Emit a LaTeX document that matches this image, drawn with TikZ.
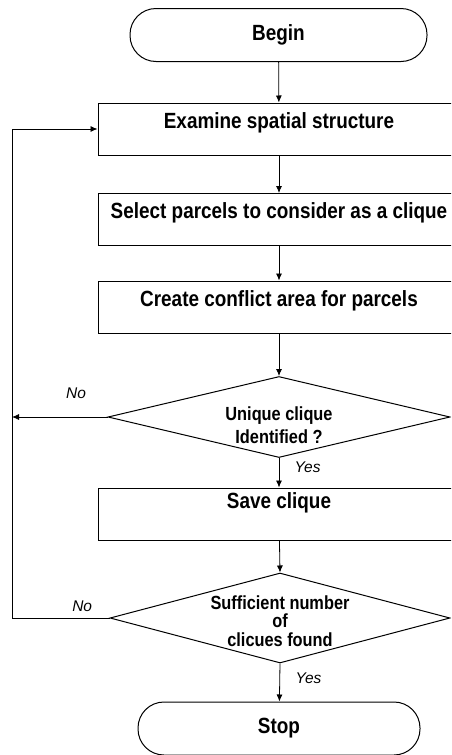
\documentclass[tikz,border=0pt]{standalone}
\usepackage{fontspec}
\setmainfont{Liberation Sans}[FakeStretch=0.86]
\newfontfamily\lblfont{Liberation Sans}
\usetikzlibrary{arrows.meta,positioning,shapes.geometric}

\begin{document}
\begin{tikzpicture}[x=1pt, y=-1pt,
  term/.style={draw, line width=1pt, rounded corners=26pt, minimum height=53pt,
               font=\bfseries\fontsize{22}{24}\selectfont},
  box/.style={draw, line width=1pt, minimum width=362pt, minimum height=52pt,
              text depth=17pt, font=\bfseries\fontsize{22}{24}\selectfont},
  dec/.style={draw, diamond, line width=1pt, inner sep=0pt, minimum width=342pt,
              minimum height=81pt},
  dectext/.style={font=\bfseries\fontsize{19}{18.5}\selectfont, align=center},
  ar/.style={-{Latex[length=7pt,width=6pt]}, line width=0.8pt},
  lbl/.style={font=\lblfont\itshape\fontsize{15.5}{17}\selectfont},
]
  \useasboundingbox (0,0) rectangle (451,755);
  \clip (0,0) rectangle (451,755);

  \node[term, minimum width=297pt] (begin) at (278.5,35) {Begin};
  \node[box] (exam) at (279,129) {Examine spatial structure};
  \node[box] (sel) at (279,219.5) {Select parcels to consider as a clique};
  \node[box] (conf) at (279,307) {Create conflict area for parcels};
  \node[dec] (uniq) at (279,417) {};
  \node[dectext, yshift=-8pt, font=\bfseries\fontsize{19}{22.5}\selectfont] (uniqt) at (uniq)
       {Unique clique\\Identified ?};
  \node[box, text depth=26pt] (save) at (279,514) {Save clique};
  \node[dec, minimum width=340pt, minimum height=90pt] (suff) at (280,618) {};
  \node[dectext, yshift=-3pt] (sufft) at (suff) {Sufficient number\\of\\clicues found};
  \node[term, minimum width=282pt] (stop) at (279,728.5) {Stop};

  \coordinate (loopa) at (12,417);
  \coordinate (loopb) at (12,618);
  \coordinate (loopc) at (12,129);

  \draw[ar] (begin) -- (exam);
  \draw[ar] (exam) -- (sel);
  \draw[ar] (sel) -- (conf);
  \draw[ar] (conf) -- (uniq.north);
  \draw[ar] (uniq.south) -- node[lbl, right=12pt, pos=0.32]{Yes} (save);
  \draw[ar] (save) -- (suff.north);
  \draw[ar] (suff.south) -- node[lbl, right=12pt, pos=0.38]{Yes} (stop);
  \draw[ar] (uniq.west) -- node[lbl, above=15pt, pos=0.33]{No} (loopa);
  \draw[ar] (suff.west) -- node[lbl, above=3pt, pos=0.28]{No} (loopb) -- (loopc) -- (exam.west);
\end{tikzpicture}
\end{document}
